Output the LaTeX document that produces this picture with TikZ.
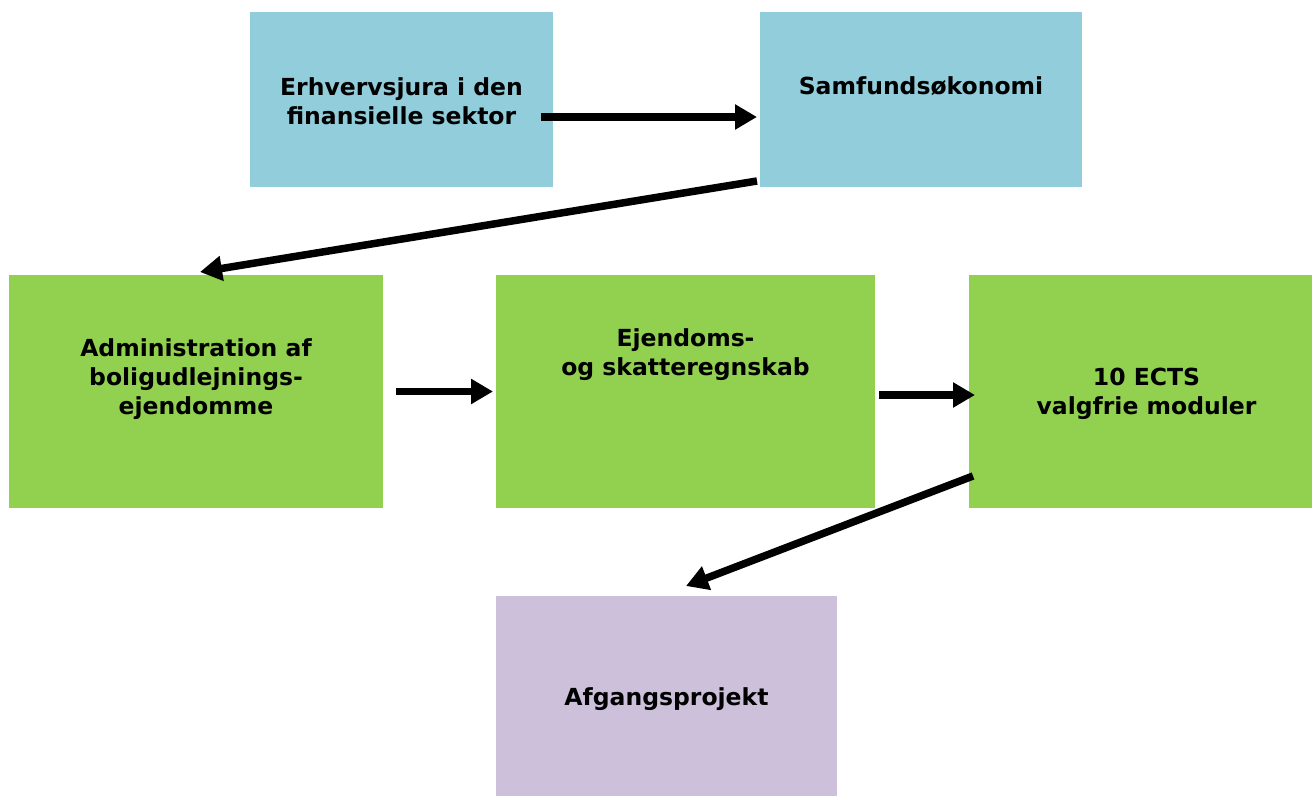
\documentclass[tikz,border=0pt]{standalone}
\usepackage{fontspec}
\setmainfont{DejaVu Sans}
\usetikzlibrary{arrows.meta}
\definecolor{kursblaa}{HTML}{92CDDC}
\definecolor{kursgroen}{HTML}{92D050}
\definecolor{kurslilla}{HTML}{CCC0DA}
\begin{document}
\begin{tikzpicture}[x=1pt, y=1pt,
        kasse/.style={inner sep=0pt, outer sep=0pt},
        tekst/.style={align=center, font=\fontsize{23.5}{29}\selectfont\bfseries},
        pil/.style={line width=7.5pt, -{Triangle[length=22pt, width=24pt]}}]
        \useasboundingbox (0, 0) rectangle (1312, 796);
        % kasser
        \node [kasse, fill=kursblaa, minimum width=303, minimum height=175] (erhverv) at (401.5, 696.5) {};
        \node [kasse, fill=kursblaa, minimum width=322, minimum height=175] (samfund) at (921, 696.5) {};
        \node [kasse, fill=kursgroen, minimum width=374, minimum height=233] (admin) at (196, 404.5) {};
        \node [kasse, fill=kursgroen, minimum width=379, minimum height=233] (regnskab) at (685.5, 404.5) {};
        \node [kasse, fill=kursgroen, minimum width=343, minimum height=233] (valgfri) at (1140.5, 404.5) {};
        \node [kasse, fill=kurslilla, minimum width=341, minimum height=200] (projekt) at (666.5, 100) {};
        % tekster
        \node [tekst] (erhvervtekst) at ([yshift=-2]erhverv.center) {Erhvervsjura i den\\finansielle sektor};
        \node [tekst] (samfundtekst) at ([yshift=13.5]samfund.center) {Samfundsøkonomi};
        \node [tekst] (admintekst) at ([yshift=12.5]admin.center) {Administration af\\boligudlejnings-\\ejendomme};
        \node [tekst] (regnskabtekst) at ([yshift=36.5]regnskab.center) {Ejendoms-\\og skatteregnskab};
        \node [tekst] (valgfritekst) at ([xshift=6, yshift=-2]valgfri.center) {10 ECTS\\valgfrie moduler};
        \node [tekst] (projekttekst) at ([yshift=-3]projekt.center) {Afgangsprojekt};
        % pile
        \draw [pil] ([xshift=-12, yshift=-17.5]erhverv.east) -- ([xshift=-3, yshift=-17.5]samfund.west);
        \draw [pil] ([xshift=-3, yshift=6]samfund.south west) -- ([xshift=4, yshift=3]admin.north);
        \draw [pil] ([xshift=13]admin.east) -- ([xshift=-3]regnskab.west);
        \draw [pil] ([xshift=4, yshift=-3.5]regnskab.east) -- ([xshift=6, yshift=-3.5]valgfri.west);
        \draw [pil] ([xshift=4, yshift=32]valgfri.south west) -- ([xshift=19.5, yshift=10]projekt.north);
    \end{tikzpicture}
\end{document}
